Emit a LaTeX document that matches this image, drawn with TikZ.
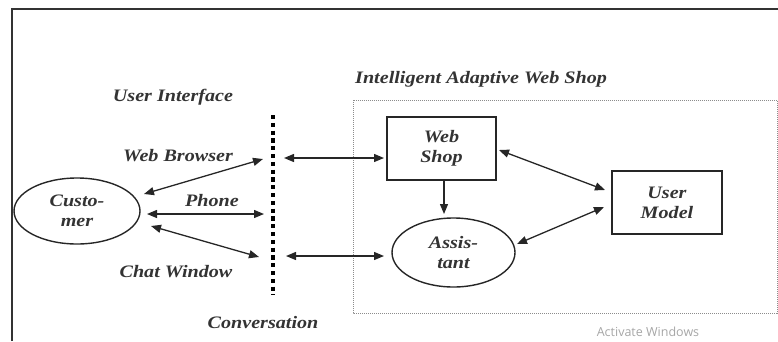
\documentclass[tikz,border=0pt]{standalone}
\usepackage{fontspec}
\setmainfont{Liberation Serif}[FakeStretch=1.15]
\newfontfamily\wmfont{Open Sans}
\usetikzlibrary{arrows.meta,shapes.geometric}
\begin{document}
\begin{tikzpicture}[x=1pt,y=-1pt,
  lbl/.style={font=\fontsize{17.5}{20}\selectfont\bfseries\itshape, text=black!80, inner sep=0pt, align=center},
  boxnode/.style={lbl, draw=black!85, line width=1.4pt, rectangle, minimum height=63pt},
  ellnode/.style={lbl, draw=black!85, line width=1.4pt, ellipse},
  arr/.style={{Triangle[length=10pt,width=8pt]}-{Triangle[length=10pt,width=8pt]}, line width=1.3pt, draw=black!85},
  sarr/.style={-{Triangle[length=10pt,width=8pt]}, line width=1.3pt, draw=black!85},
  uiline/.style={line width=4.5pt, dash pattern=on 4.2pt off 3.6pt, draw=black},
  region/.style={draw=black!45, line width=0.9pt, dash pattern=on 1pt off 1pt},
  frame/.style={draw=black!80, line width=2.2pt}
]
\useasboundingbox (0,0) rectangle (778,341);
% outer frame (top and left only)
\draw[frame] (12,341) -- (12,9) -- (778,9);
% region of the web shop
\draw[region] (353,100) rectangle (777,313);
\node[lbl, anchor=west] (iaws) at (355,79) {Intelligent Adaptive Web Shop};
% labels on the left
\node[lbl] (ui) at (173,97) {User Interface};
\node[lbl] (conv) at (263,323) {Conversation};
\node[lbl] (wb) at (178,156) {Web Browser};
\node[lbl] (ph) at (212,201) {Phone};
\node[lbl] (cw) at (176,272) {Chat Window};
% nodes
\node[ellnode, minimum width=126pt, minimum height=66pt] (cust) at (77,211) {Custo-\\mer};
\node[boxnode, minimum width=109pt] (ws) at (441.5,148.5) {Web\\Shop};
\node[ellnode, minimum width=123pt, minimum height=69pt] (as) at (453.5,252.5) {Assis-\\tant};
\node[boxnode, minimum width=110pt] (um) at (667,202.5) {User\\Model};
% dotted interface line
\coordinate (uitop) at (273,115);
\coordinate (uibot) at (273,295);
\draw[uiline] (uitop) -- (uibot);
% connector end points
\coordinate (c1) at (144,194);
\coordinate (c2) at (147,214);
\coordinate (c3) at (151,226);
\coordinate (u1) at (263,159);
\coordinate (u2) at (264,214);
\coordinate (u3) at (259,257);
\coordinate (r1) at (284,158);
\coordinate (r2) at (286,256);
\coordinate (w1) at (384,158);
\coordinate (a1) at (384,256);
\coordinate (wsr) at (499,150);
\coordinate (umt) at (605,190);
\coordinate (asr) at (517,244);
\coordinate (umb) at (604,207);
\coordinate (wsb) at (444,180);
\coordinate (ast) at (444,214);
% connectors
\draw[arr] (c1) -- (u1);
\draw[arr] (c2) -- (u2);
\draw[arr] (c3) -- (u3);
\draw[arr] (r1) -- (w1);
\draw[arr] (r2) -- (a1);
\draw[sarr] (wsb) -- (ast);
\draw[arr] (wsr) -- (umt);
\draw[arr] (asr) -- (umb);
% watermark
\node[font=\wmfont\fontsize{12.5}{14}\selectfont, text=black!35, inner sep=0pt] (wm) at (648,332) {Activate Windows};
\end{tikzpicture}
\end{document}
